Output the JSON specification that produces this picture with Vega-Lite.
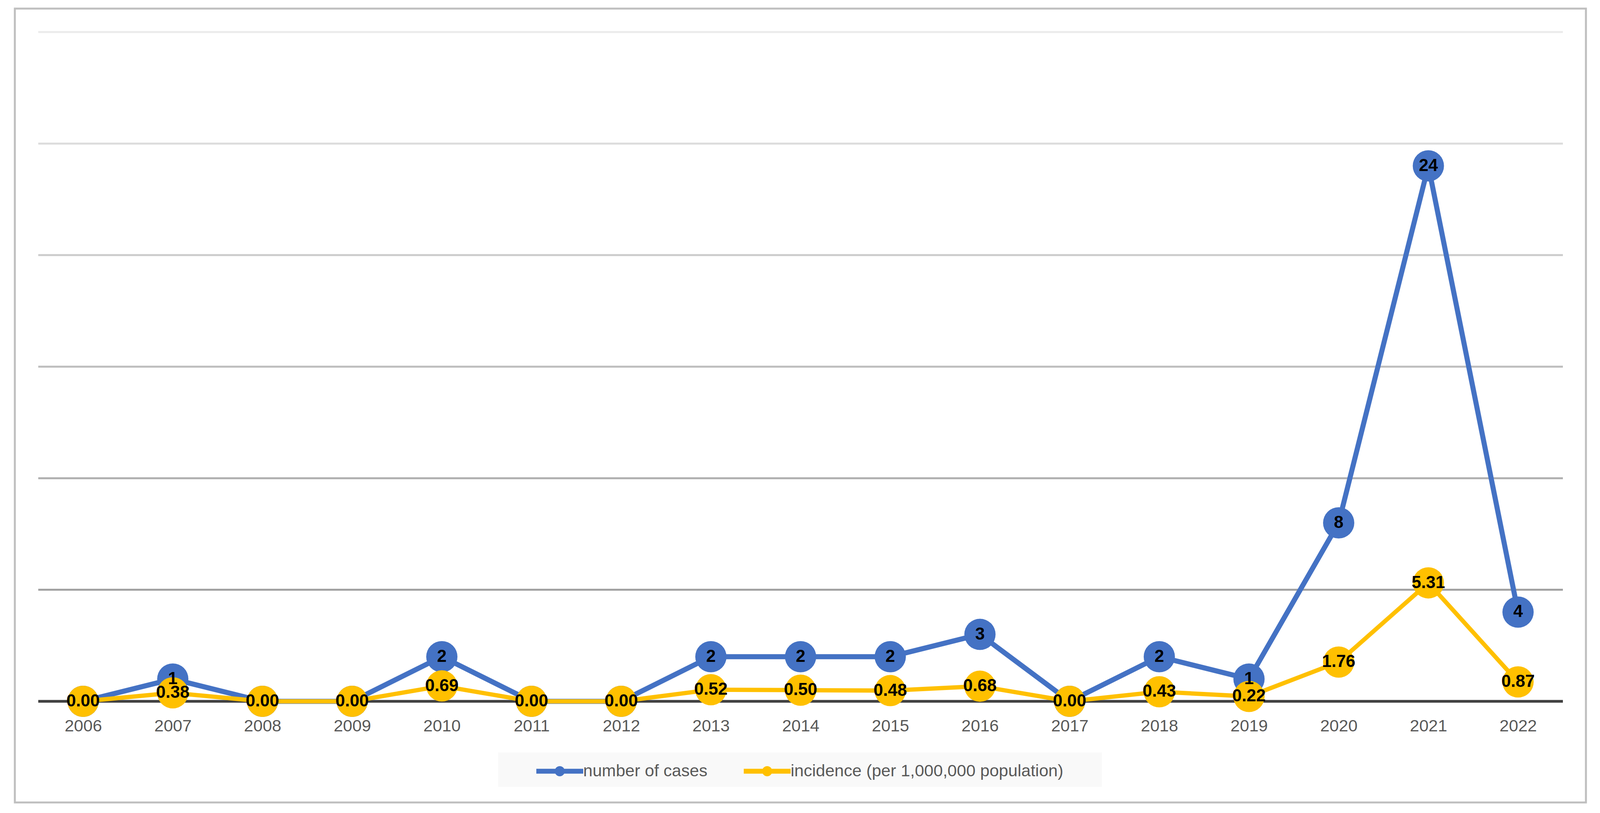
{
  "$schema": "https://vega.github.io/schema/vega-lite/v6.json",
  "autosize": {"type": "none"},
  "padding": {"left": 38, "top": 22, "right": 36, "bottom": 27},
  "width": 4022,
  "height": 2033,
  "background": "white",
  "config": {
    "view": {"stroke": "#bfbfbf", "strokeWidth": 5},
    "font": "Liberation Sans"
  },
  "datasets": {
    "grid": [{"g": 5}, {"g": 10}, {"g": 15}, {"g": 20}, {"g": 25}, {"g": 30}],
    "base": [{"g": 0}],
    "cases": [
      {"year": 2006, "series": "number of cases", "value": 0},
      {"year": 2007, "series": "number of cases", "value": 1},
      {"year": 2008, "series": "number of cases", "value": 0},
      {"year": 2009, "series": "number of cases", "value": 0},
      {"year": 2010, "series": "number of cases", "value": 2},
      {"year": 2011, "series": "number of cases", "value": 0},
      {"year": 2012, "series": "number of cases", "value": 0},
      {"year": 2013, "series": "number of cases", "value": 2},
      {"year": 2014, "series": "number of cases", "value": 2},
      {"year": 2015, "series": "number of cases", "value": 2},
      {"year": 2016, "series": "number of cases", "value": 3},
      {"year": 2017, "series": "number of cases", "value": 0},
      {"year": 2018, "series": "number of cases", "value": 2},
      {"year": 2019, "series": "number of cases", "value": 1},
      {"year": 2020, "series": "number of cases", "value": 8},
      {"year": 2021, "series": "number of cases", "value": 24},
      {"year": 2022, "series": "number of cases", "value": 4}
    ],
    "incidence": [
      {"year": 2006, "series": "incidence (per 1,000,000 population)", "value": 0.00},
      {"year": 2007, "series": "incidence (per 1,000,000 population)", "value": 0.38},
      {"year": 2008, "series": "incidence (per 1,000,000 population)", "value": 0.00},
      {"year": 2009, "series": "incidence (per 1,000,000 population)", "value": 0.00},
      {"year": 2010, "series": "incidence (per 1,000,000 population)", "value": 0.69},
      {"year": 2011, "series": "incidence (per 1,000,000 population)", "value": 0.00},
      {"year": 2012, "series": "incidence (per 1,000,000 population)", "value": 0.00},
      {"year": 2013, "series": "incidence (per 1,000,000 population)", "value": 0.52},
      {"year": 2014, "series": "incidence (per 1,000,000 population)", "value": 0.50},
      {"year": 2015, "series": "incidence (per 1,000,000 population)", "value": 0.48},
      {"year": 2016, "series": "incidence (per 1,000,000 population)", "value": 0.68},
      {"year": 2017, "series": "incidence (per 1,000,000 population)", "value": 0.00},
      {"year": 2018, "series": "incidence (per 1,000,000 population)", "value": 0.43},
      {"year": 2019, "series": "incidence (per 1,000,000 population)", "value": 0.22},
      {"year": 2020, "series": "incidence (per 1,000,000 population)", "value": 1.76},
      {"year": 2021, "series": "incidence (per 1,000,000 population)", "value": 5.31},
      {"year": 2022, "series": "incidence (per 1,000,000 population)", "value": 0.87}
    ]
  },
  "layer": [
    {
      "data": {"name": "grid"},
      "mark": {"type": "rule", "strokeWidth": 5},
      "encoding": {
        "y": {
          "field": "g",
          "type": "quantitative",
          "scale": {"domain": [-4.533, 31.05], "nice": false, "zero": false},
          "axis": null
        },
        "x": {
          "datum": 2005.5,
          "type": "quantitative",
          "scale": {"domain": [2005.239, 2022.757], "nice": false, "zero": false},
          "axis": {
            "title": null,
            "values": [2006, 2007, 2008, 2009, 2010, 2011, 2012, 2013, 2014, 2015, 2016, 2017, 2018, 2019, 2020, 2021, 2022],
            "format": "d",
            "offset": -259,
            "ticks": false,
            "domain": false,
            "grid": false,
            "labelPadding": 42,
            "labelFontSize": 43,
            "labelColor": "#595959",
            "labelFont": "Liberation Sans",
            "labelFlush": false,
            "labelOverlap": false
          }
        },
        "x2": {"datum": 2022.5},
        "stroke": {
          "field": "g",
          "type": "quantitative",
          "scale": {"domain": [5, 30], "range": ["#a0a0a0", "#ebebeb"]},
          "legend": null
        }
      }
    },
    {
      "data": {"name": "base"},
      "mark": {"type": "rule", "stroke": "#404040", "strokeWidth": 7},
      "encoding": {
        "y": {"field": "g", "type": "quantitative"},
        "x": {"datum": 2005.5, "type": "quantitative"},
        "x2": {"datum": 2022.5}
      }
    },
    {
      "data": {"name": "cases"},
      "mark": {"type": "line", "strokeWidth": 13, "strokeJoin": "round", "strokeCap": "round"},
      "encoding": {
        "x": {"field": "year", "type": "quantitative"},
        "y": {"field": "value", "type": "quantitative"},
        "color": {
          "field": "series",
          "type": "nominal",
          "scale": {
            "domain": ["number of cases", "incidence (per 1,000,000 population)"],
            "range": ["#4472C4", "#FFC000"]
          },
          "legend": {
            "orient": "none",
            "legendX": 1237,
            "legendY": 1905,
            "direction": "horizontal",
            "columns": 2,
            "title": "\u00a0",
            "titleOrient": "right",
            "titlePadding": 81,
            "titleFontSize": 10,
            "fillColor": "#f9f9f9",
            "padding": 18,
            "symbolType": "M-2,-0.21 L2,-0.21 L2,0.21 L-2,0.21 Z M-0.43,0 A0.43,0.43 0 1,1 0.43,0 A0.43,0.43 0 1,1 -0.43,0 Z",
            "symbolSize": 3600,
            "symbolOffset": 110,
            "symbolStrokeWidth": 0,
            "labelOffset": 30,
            "columnPadding": 13,
            "labelFontSize": 43,
            "labelColor": "#595959",
            "labelFont": "Liberation Sans",
            "labelLimit": 2000,
            "encode": {
              "symbols": {
                "update": {
                  "fill": {"scale": "color", "field": "value"},
                  "strokeWidth": {"value": 0},
                  "opacity": {"value": 1}
                }
              }
            }
          }
        }
      }
    },
    {
      "data": {"name": "cases"},
      "mark": {"type": "point", "filled": true, "shape": "circle", "size": 6400, "opacity": 1, "strokeWidth": 0},
      "encoding": {
        "x": {"field": "year", "type": "quantitative"},
        "y": {"field": "value", "type": "quantitative"},
        "color": {"field": "series", "type": "nominal"}
      }
    },
    {
      "data": {"name": "incidence"},
      "mark": {"type": "line", "strokeWidth": 11, "strokeJoin": "round", "strokeCap": "round"},
      "encoding": {
        "x": {"field": "year", "type": "quantitative"},
        "y": {"field": "value", "type": "quantitative"},
        "color": {"field": "series", "type": "nominal"}
      }
    },
    {
      "data": {"name": "incidence"},
      "mark": {"type": "point", "filled": true, "shape": "circle", "size": 6400, "opacity": 1, "strokeWidth": 0},
      "encoding": {
        "x": {"field": "year", "type": "quantitative"},
        "y": {"field": "value", "type": "quantitative"},
        "color": {"field": "series", "type": "nominal"}
      }
    },
    {
      "data": {"name": "cases"},
      "transform": [{"filter": "datum.value > 0"}],
      "mark": {"type": "text", "fontSize": 44, "fontWeight": "bold", "color": "black", "align": "center", "baseline": "middle", "font": "Liberation Sans"},
      "encoding": {
        "x": {"field": "year", "type": "quantitative"},
        "y": {"field": "value", "type": "quantitative"},
        "text": {"field": "value", "type": "quantitative", "format": "d"}
      }
    },
    {
      "data": {"name": "incidence"},
      "mark": {"type": "text", "fontSize": 44, "fontWeight": "bold", "color": "black", "align": "center", "baseline": "middle", "font": "Liberation Sans"},
      "encoding": {
        "x": {"field": "year", "type": "quantitative"},
        "y": {"field": "value", "type": "quantitative"},
        "text": {"field": "value", "type": "quantitative", "format": ".2f"}
      }
    }
  ]
}
